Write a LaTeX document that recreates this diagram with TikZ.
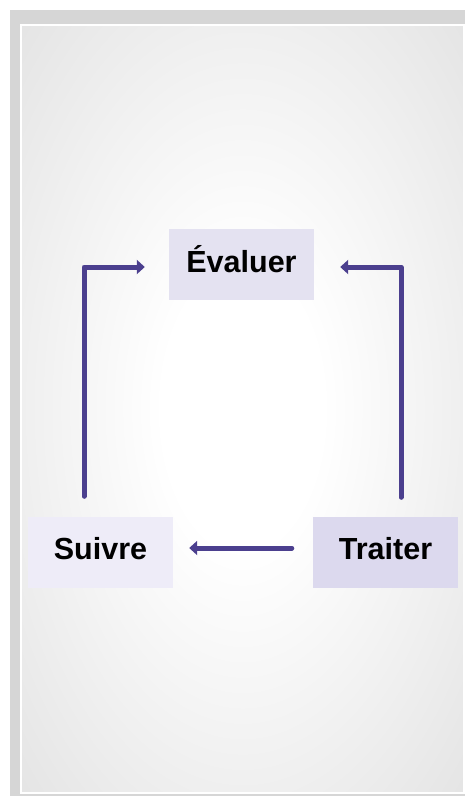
\documentclass[tikz,border=0pt]{standalone}
\usepackage{fontspec}
\setmainfont{Liberation Sans}
\usetikzlibrary{arrows.meta}
\definecolor{arrowc}{HTML}{4B3F8E}
\definecolor{outerg}{HTML}{D6D6D6}
\definecolor{fillE}{HTML}{E4E2F1}
\definecolor{fillS}{HTML}{EEECF8}
\definecolor{fillT}{HTML}{DCD9EE}
\pgfdeclareradialshading{bgrad}{\pgfpoint{0bp}{0bp}}{color(0bp)=(white); color(9bp)=(white); color(50bp)=(outerg); color(71bp)=(outerg)}
\tikzset{
  box/.style={minimum width=145pt, minimum height=71pt, inner sep=0pt, anchor=center,
    text height=15pt, text depth=0pt, font=\fontsize{30.5}{36}\selectfont\bfseries},
  arr/.style={draw=arrowc, line width=5pt, line cap=round, line join=round,
    -{Triangle[length=8pt,width=14pt]}}
}
\begin{document}
\begin{tikzpicture}[x=1pt,y=-1pt]
\useasboundingbox (0,0) rectangle (465,796);
\fill[white] (0,0) rectangle (465,796);
\fill[outerg] (10,10) rectangle (468,799);
\path[shading=bgrad, draw=white, line width=2pt] (21,24.5) rectangle (464,792.5);
\node[box, fill=fillE] (Evaluer) at (241.5,264.5) {Évaluer};
\node[box, fill=fillS] (Suivre) at (100.5,552) {Suivre};
\node[box, fill=fillT] (Traiter) at (385.5,552) {Traiter};
\draw[arr] ([xshift=-16.5pt,yshift=20pt]Suivre.north) |- ([xshift=-24pt,yshift=-2.5pt]Evaluer.west);
\draw[arr] ([xshift=15.5pt,yshift=19pt]Traiter.north) |- ([xshift=26pt,yshift=-2.5pt]Evaluer.east);
\draw[arr] ([xshift=-21pt,yshift=4pt]Traiter.west) -- ([xshift=16pt,yshift=4pt]Suivre.east);
\end{tikzpicture}
\end{document}
